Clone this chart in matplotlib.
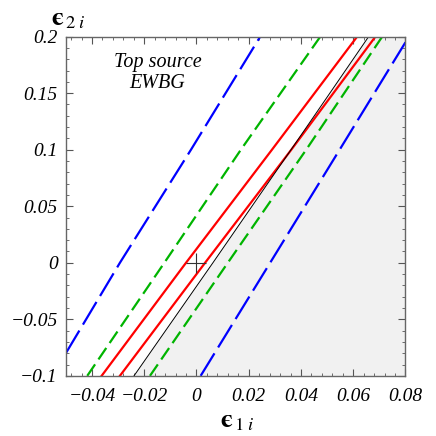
import numpy as np
import matplotlib
matplotlib.use('Agg')
import matplotlib.pyplot as plt

plt.rcParams['font.family'] = ['Liberation Serif', 'DejaVu Serif']
plt.rcParams['mathtext.fontset'] = 'stix'
plt.rcParams['lines.scale_dashes'] = False

# lines: eps_1i values at the given eps_2i values
y_pts = [-0.1, 0.0, 0.1, 0.2]
black_x = [-0.0239, 0.0063, 0.0362, 0.0659]
red_up_x = [-0.0363, -0.0040, 0.0289, 0.0615]
red_lo_x = [-0.0293, 0.0033, 0.0363, 0.0685]
green_up_x = [-0.0418, -0.0123, 0.0170, 0.0474]
green_lo_x = [-0.0178, 0.0120, 0.0420, 0.0711]
blue_up_y = [-0.08, 0.0, 0.1, 0.2]
blue_up_x = [-0.05, -0.0293, -0.0021, 0.0244]
blue_lo_y = [-0.1, 0.0, 0.1, 0.195]
blue_lo_x = [0.0016, 0.0282, 0.0548, 0.0800]

x_ticks = [-0.04, -0.02, 0, 0.02, 0.04, 0.06, 0.08]
x_labels = ['\u22120.04', '\u22120.02', '0', '0.02', '0.04', '0.06', '0.08']
y_ticks = [-0.1, -0.05, 0, 0.05, 0.1, 0.15, 0.2]
y_labels = ['\u22120.1', '\u22120.05', '0', '0.05', '0.1', '0.15', '0.2']

fig = plt.figure(figsize=(4.36, 4.36), dpi=100)
ax = fig.add_axes([0.151, 0.138, 0.779, 0.778])

# excluded region right of the black line
ax.fill_betweenx(y_pts, black_x, 0.08, color='#f1f1f1', lw=0, zorder=0)

ax.plot(blue_up_x, blue_up_y, color='#0000ff', lw=1.6, dashes=(19, 5))
ax.plot(blue_lo_x, blue_lo_y, color='#0000ff', lw=1.6, dashes=(19, 5))
ax.plot(green_up_x, y_pts, color='#00b400', lw=1.6, dashes=(10, 4.3))
ax.plot(green_lo_x, y_pts, color='#00b400', lw=1.6, dashes=(10, 4.3))
ax.plot(red_up_x, y_pts, color='#ff0000', lw=1.6)
ax.plot(red_lo_x, y_pts, color='#ff0000', lw=1.6)
ax.plot(black_x, y_pts, color='black', lw=0.7)

ax.plot([0], [0], marker='+', ms=14, mew=0.8, color='#333333')

ax.set_xlim(-0.05, 0.08)
ax.set_ylim(-0.1, 0.2)
ax.set_xticks(x_ticks)
ax.set_xticklabels(x_labels, fontstyle='italic', fontsize=14)
ax.set_yticks(y_ticks)
ax.set_yticklabels(y_labels, fontstyle='italic', fontsize=14)
ax.set_xticks(np.arange(-0.048, 0.0801, 0.004), minor=True)
ax.set_yticks(np.arange(-0.1, 0.2001, 0.01), minor=True)
ax.tick_params(which='both', direction='in', top=True, right=True, color='#555555')
ax.tick_params(axis='x', which='major', pad=9)
ax.tick_params(axis='y', which='major', pad=6)
ax.tick_params(which='major', length=5, width=0.8)
ax.tick_params(which='minor', length=2.5, width=0.6)
for s in ax.spines.values():
    s.set_color('#666666')
    s.set_linewidth(1.0)

ax.text(0.27, 0.893, 'Top source\nEWBG', transform=ax.transAxes, ha='center', va='center',
        fontstyle='italic', fontsize=14.5, linespacing=1.2)

# axis labels: lunate epsilon with italic subscript
fig.text(0.118, 0.955, '$\\mathbf{\u03f5}_{\\,2\\;i}$', fontsize=19, ha='left', va='center')
fig.text(0.505, 0.032, '$\\mathbf{\u03f5}_{\\,1\\;i}$', fontsize=19, ha='left', va='center')

fig.savefig('out.png', dpi=100)
